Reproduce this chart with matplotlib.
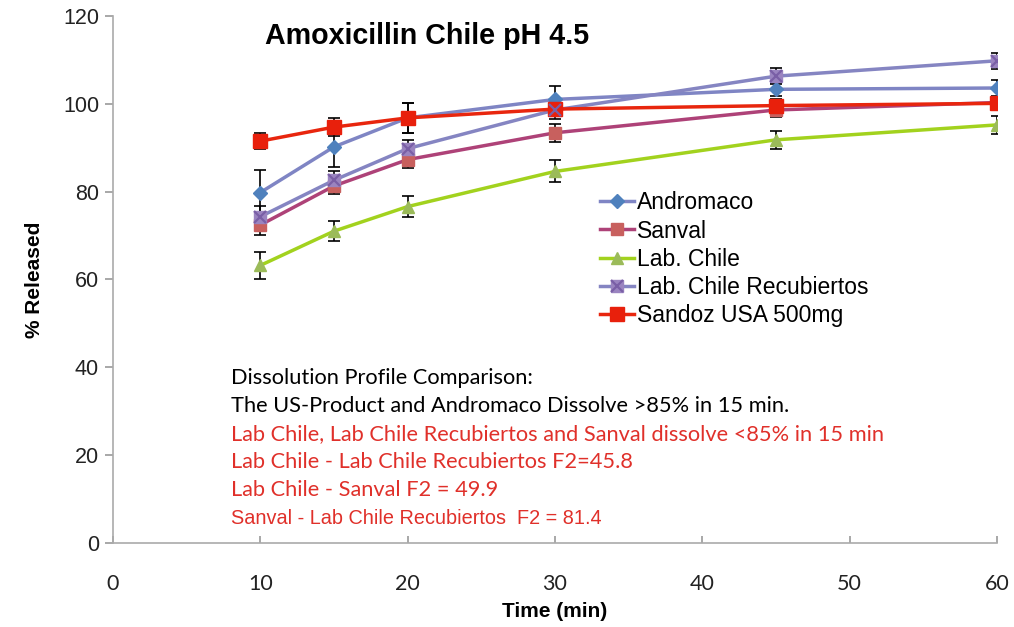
import matplotlib
matplotlib.use("Agg")
import matplotlib.pyplot as plt

# ============= DATA =============
time_min = [10, 15, 20, 30, 45, 60]

andromaco = [79.8, 90.2, 96.8, 101.0, 103.3, 103.6]
andromaco_err = [5.2, 4.5, 3.5, 3.0, 1.5, 1.8]

sanval = [72.4, 81.3, 87.3, 93.4, 98.6, 100.3]
sanval_err = [2.2, 1.8, 2.0, 2.0, 1.5, 1.2]

lab_chile = [63.2, 71.0, 76.6, 84.6, 91.8, 95.2]
lab_chile_err = [3.0, 2.3, 2.4, 2.5, 2.0, 2.0]

lab_chile_rec = [74.3, 82.6, 89.8, 98.6, 106.3, 109.8]
lab_chile_rec_err = [2.5, 2.0, 2.0, 2.0, 1.8, 1.8]

sandoz = [91.5, 94.7, 96.8, 98.8, 99.6, 100.1]
sandoz_err = [1.8, 2.0, 3.5, 1.5, 1.5, 1.2]

series_names = ["Andromaco", "Sanval", "Lab. Chile", "Lab. Chile Recubiertos", "Sandoz USA 500mg"]

notes_black = ["Dissolution Profile Comparison:",
               "The US-Product and Andromaco Dissolve >85% in 15 min."]
notes_red = ["Lab Chile, Lab Chile Recubiertos and Sanval dissolve <85% in 15 min",
             "Lab Chile - Lab Chile Recubiertos F2=45.8",
             "Lab Chile - Sanval F2 = 49.9"]
note_last = "Sanval - Lab Chile Recubiertos  F2 = 81.4"

# ============= PLOT =============
plt.rcParams['font.family'] = ['Liberation Sans', 'DejaVu Sans']
note_font = ['Lato', 'DejaVu Sans']

fig = plt.figure(figsize=(10.14, 6.27), dpi=100)
ax = fig.add_axes([0.1114, 0.134, 0.8718, 0.8405])

styles = [
    # line color, marker, marker face, marker size
    ("#7F85C4", "D", "#4F81BD", 7),
    ("#AE4278", "s", "#C8605E", 9),
    ("#A2D21E", "^", "#9BBB59", 9),
    ("#8585C2", "s", "#9A84C0", 9),
    ("#E8260E", "s", "#E8200C", 10),
]
data = [andromaco, sanval, lab_chile, lab_chile_rec, sandoz]
errs = [andromaco_err, sanval_err, lab_chile_err, lab_chile_rec_err, sandoz_err]

handles = []
for name, y, e, (lc, mk, mf, ms) in zip(series_names, data, errs, styles):
    ax.errorbar(time_min, y, yerr=e, fmt='none', ecolor='black', elinewidth=1.2,
                capsize=4, capthick=1.2, zorder=2)
    ln, = ax.plot(time_min, y, color=lc, linewidth=2.5, marker=mk, markersize=ms,
                  markerfacecolor=mf, markeredgecolor=mf, label=name, zorder=3)
    if name == "Lab. Chile Recubiertos":
        # square with a cross on top
        xl, = ax.plot(time_min, y, linestyle='none', marker='x', markersize=8,
                      markeredgecolor='#7A5FA6', markeredgewidth=1.6, zorder=4)
        handles.append((ln, xl))
    else:
        handles.append(ln)

ax.set_xlim(0, 60)
ax.set_ylim(0, 120)
ax.set_xticks(range(0, 61, 10))
ax.set_yticks(range(0, 121, 20))
ax.tick_params(axis='y', labelsize=15.5, colors='#999999', labelcolor='#222222',
               length=6, width=1.2, direction='out', pad=4)
ax.tick_params(axis='x', labelsize=15.5, colors='#999999', labelcolor='#222222',
               length=5, width=1.2, direction='in', pad=22)
for lab in ax.get_xticklabels():
    lab.set_family(note_font)
for s in ['top', 'right']:
    ax.spines[s].set_visible(False)
for s in ['left', 'bottom']:
    ax.spines[s].set_color('#AAAAAA')
    ax.spines[s].set_linewidth(1.2)

ax.set_xlabel("Time (min)", fontsize=15, fontweight='bold', labelpad=6)
ax.set_ylabel("% Released", fontsize=15, fontweight='bold', labelpad=14)

ax.text(10.3, 115.5, "Amoxicillin Chile pH 4.5", fontsize=20.6, fontweight='bold',
        va='center', ha='left')

leg = ax.legend(handles, series_names, loc='upper left', bbox_to_anchor=(0.551, 0.667),
                frameon=False, fontsize=16.5, handlelength=1.5, handletextpad=0.1,
                labelspacing=0.22, borderaxespad=0, borderpad=0)

y_pos = [37.6, 31.2, 24.8, 18.5, 12.1]
for txt, yy in zip(notes_black, y_pos[:2]):
    ax.text(8.0, yy, txt, fontsize=15.7, family=note_font, color='black', va='center')
for txt, yy in zip(notes_red, y_pos[2:]):
    ax.text(8.0, yy, txt, fontsize=15.7, family=note_font, color='#E0302A', va='center')
ax.text(8.0, 5.6, note_last, fontsize=14.3, color='#E0302A', va='center')

fig.savefig("out.png", dpi=100)
